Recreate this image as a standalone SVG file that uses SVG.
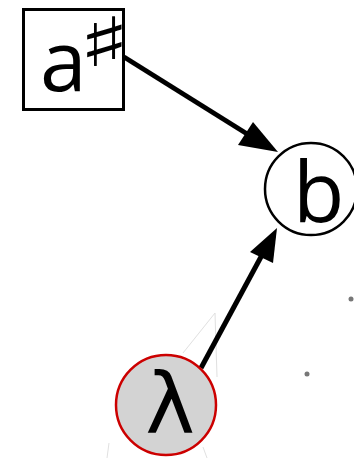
<svg xmlns="http://www.w3.org/2000/svg" width="354" height="458" viewBox="0 0 354 458">
<style>
.lbl{font-family:"Open Sans","Noto Sans","Liberation Sans",sans-serif;fill:#000}
.edge{stroke:#000;stroke-width:5;fill:none}
.head{fill:#000}
.faint{stroke:#e0e0e0;stroke-width:1;fill:none}
</style>
<rect width="354" height="458" fill="#fff"/>
<g id="artifacts">
<path class="faint" d="M183,353 L215,313 L217,377"/>
<path class="faint" d="M107,458 L109,443"/>
<path class="faint" d="M203,447 L207,458"/>
<circle cx="351" cy="299" r="2.5" fill="#777"/>
<circle cx="307" cy="374" r="2.5" fill="#777"/>
</g>
<g id="connectors">
<line class="edge" x1="124" y1="57" x2="252" y2="137"/>
<polygon class="head" points="278,152 253,122 238,145"/>
<line class="edge" x1="201" y1="368" x2="262" y2="255"/>
<polygon class="head" points="277,228 250,252 273,263"/>
</g>
<g id="node-a">
<rect x="23.5" y="9.5" width="100" height="100" fill="#fff" stroke="#000" stroke-width="3"/>
<text class="lbl" x="40" y="91" font-size="84">a</text>
<text transform="translate(78,66) scale(1.6,1)" font-size="68" font-weight="bold" fill="#000" font-family="DejaVu Sans,sans-serif">♯</text>
</g>
<g id="node-b">
<circle cx="311" cy="189" r="46" fill="#fff" stroke="#000" stroke-width="2.5"/>
<text class="lbl" x="293" y="222" font-size="84">b</text>
</g>
<g id="node-lambda">
<circle cx="166" cy="405" r="50" fill="#d3d3d3" stroke="#c00" stroke-width="2.5"/>
<text x="170" y="433" font-size="84" text-anchor="middle" fill="#000" font-family="DejaVu Sans,sans-serif">λ</text>
</g>
</svg>
